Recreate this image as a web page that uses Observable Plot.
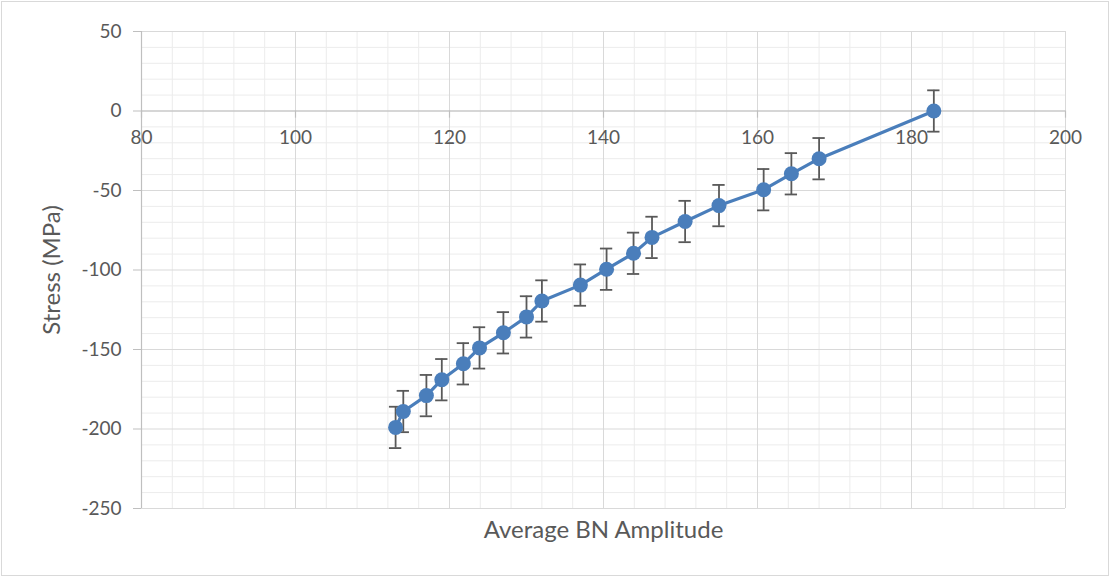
<!DOCTYPE html>
<html>
<head>
<meta charset="utf-8">
<script src="https://cdn.jsdelivr.net/npm/d3@7"></script>
<script src="https://cdn.jsdelivr.net/npm/@observablehq/plot@0.6"></script>
<style>
  html, body { margin: 0; padding: 0; background: #fff; }
  #chart svg { display: block; outline: 1px solid #d9d9d9; outline-offset: -2px; }
</style>
</head>
<body>
<div id="chart"></div>
<script>
// Data
const amplitude = [113, 114, 117, 119, 121.8, 123.9, 127, 130, 132, 137, 140.4, 143.9, 146.3, 150.6, 155, 160.8, 164.4, 168, 182.9];
const stress = [-199, -189, -179, -169, -159, -149, -139.5, -129.5, -119.5, -109.5, -99.5, -89.5, -79.5, -69.5, -59.5, -49.5, -39.5, -30, 0];
const errorAmount = 13;
const xTicks = [80, 100, 120, 140, 160, 180, 200];
const yTicks = [50, 0, -50, -100, -150, -200, -250];
const xMinor = [84, 88, 92, 96, 104, 108, 112, 116, 124, 128, 132, 136, 144, 148, 152, 156, 164, 168, 172, 176, 184, 188, 192, 196];
const yMinor = [40, 30, 20, 10, -10, -20, -30, -40, -60, -70, -80, -90, -110, -120, -130, -140, -160, -170, -180, -190, -210, -220, -230, -240];

const data = amplitude.map((x, i) => ({x, y: stress[i]}));
const font = "Lato, 'Open Sans', sans-serif";
const textColor = "#595959";
const blue = "#4a7ebb";

const chart = Plot.plot({
  width: 1110,
  height: 577,
  marginLeft: 141,
  marginRight: 45,
  marginTop: 31,
  marginBottom: 69,
  style: {fontFamily: font, color: textColor, background: "#fff"},
  x: {domain: [80, 200], axis: null},
  y: {domain: [-250, 50], axis: null},
  marks: [
    // minor grid
    Plot.gridX(xMinor, {stroke: "#ececec", strokeOpacity: 1, strokeWidth: 1}),
    Plot.gridY(yMinor, {stroke: "#ececec", strokeOpacity: 1, strokeWidth: 1}),
    // major grid
    Plot.gridX(xTicks, {stroke: "#d9d9d9", strokeOpacity: 1, strokeWidth: 1}),
    Plot.gridY(yTicks, {stroke: "#d9d9d9", strokeOpacity: 1, strokeWidth: 1}),
    // y axis line
    Plot.ruleX([80], {stroke: "#bfbfbf", strokeWidth: 1.2}),
    // x axis line at y = 0
    Plot.ruleY([0], {stroke: "#bfbfbf", strokeWidth: 1.2}),
    // x axis ticks below the zero line
    Plot.ruleX(xTicks, {y1: 0, y2: -4.5, stroke: "#bfbfbf", strokeWidth: 1.2}),
    // x tick labels
    Plot.text(xTicks, {x: d => d, y: 0, dy: 27, text: d => String(d), fontSize: 19, fill: textColor}),
    // y axis
    Plot.axisY(yTicks, {tickSize: 8, tickPadding: 12, fontSize: 19, stroke: "#bfbfbf", fill: textColor, label: null, tickFormat: d => String(d)}),
    // axis titles
    Plot.text(["Average BN Amplitude"], {frameAnchor: "bottom", lineAnchor: "middle", textAnchor: "middle", dy: 22, text: d => d, fontSize: 24, fill: textColor}),
    Plot.text(["Stress (MPa)"], {frameAnchor: "left", lineAnchor: "middle", textAnchor: "middle", dx: -89, rotate: -90, text: d => d, fontSize: 24, fill: textColor}),
    // error bars
    Plot.ruleX(data, {x: "x", y1: d => d.y - errorAmount, y2: d => d.y + errorAmount, stroke: "#595959", strokeWidth: 1.8}),
    Plot.ruleY(data, {y: d => d.y + errorAmount, x1: d => d.x - 0.8, x2: d => d.x + 0.8, stroke: "#595959", strokeWidth: 1.8}),
    Plot.ruleY(data, {y: d => d.y - errorAmount, x1: d => d.x - 0.8, x2: d => d.x + 0.8, stroke: "#595959", strokeWidth: 1.8}),
    // series
    Plot.line(data, {x: "x", y: "y", stroke: blue, strokeWidth: 3.2}),
    Plot.dot(data, {x: "x", y: "y", r: 7.5, fill: blue, stroke: "none"})
  ]
});
document.getElementById("chart").appendChild(chart);
</script>
</body>
</html>
